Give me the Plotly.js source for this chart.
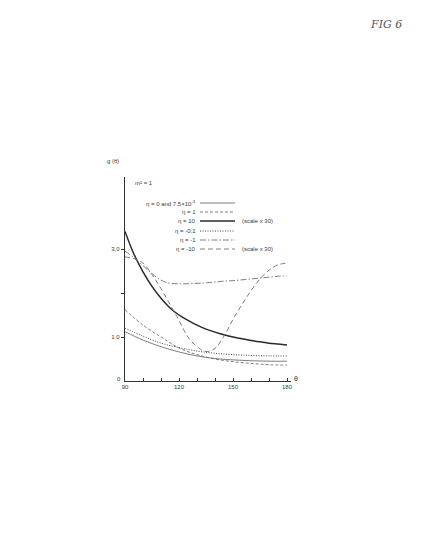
<!DOCTYPE html>
<html><head><meta charset="utf-8">
<script src="https://cdn.plot.ly/plotly-3.0.1.min.js"></script>
<style>html,body{margin:0;padding:0;background:#fff;}#g{width:421px;height:545px;}</style>
</head><body><div id="g"></div>
<script>
// angle grid (degrees)
const thetaA = [90,95,100,105,110,115,120,125,130,135,140,145,150,155,160,165,170,175,180];
const etaPos10 = [3.40,2.88,2.48,2.15,1.88,1.66,1.50,1.38,1.27,1.18,1.11,1.05,1.00,0.96,0.92,0.89,0.86,0.84,0.82];
const etaNeg1  = [2.95,2.80,2.62,2.44,2.29,2.22,2.21,2.21,2.22,2.23,2.25,2.27,2.28,2.30,2.32,2.34,2.36,2.38,2.39];
const etaNeg10 = [2.82,2.78,2.68,2.42,2.10,1.74,1.38,1.00,0.78,0.67,0.74,1.02,1.40,1.74,2.05,2.32,2.52,2.64,2.68];
const thetaB = [90,100,110,120,130,140,150,160,170,180];
const etaPos1  = [1.62,1.27,1.00,0.75,0.60,0.50,0.44,0.40,0.37,0.36];
const etaNeg01 = [1.20,1.02,0.86,0.76,0.68,0.63,0.60,0.58,0.57,0.57];
const eta0     = [1.12,0.93,0.78,0.66,0.57,0.51,0.48,0.46,0.45,0.45];
const xTicks = [90,100,110,120,130,140,150,160,170,180];
const xTickText = ['90','','','120','','','150','','','180'];
const yTicks = [1,2,3];
const yTickText = ['1.0','','3.0'];
const legendLabels = ['η = 0 and 7.5×10<sup>-3</sup>','η = 1','η = 10','η = -0.1','η = -1','η = -10'];

const gray='#707070';
const styles=[[0.9,'solid',gray],[0.9,'3px,2px',gray],[1.5,'solid','#2a2a2a'],[1.0,'1px,1.5px','#444'],[0.9,'6px,2px,1.5px,2px',gray],[0.9,'5px,3px',gray]];
const series=[[thetaB,eta0],[thetaB,etaPos1],[thetaA,etaPos10],[thetaB,etaNeg01],[thetaA,etaNeg1],[thetaA,etaNeg10]];
const data=series.map((s,i)=>({x:s[0],y:s[1],type:'scatter',mode:'lines',hoverinfo:'skip',
  line:{color:styles[i][2],width:styles[i][0],dash:styles[i][1],shape:'spline'}}));
const W=421,H=545;
const px=v=>v/W, py=v=>1-v/H;
const legY=[203,212,221,231,240,249];
const shapes=[], ann=[];
const tc='#3a3a3a';
legY.forEach((yy,i)=>{
  shapes.push({type:'line',xref:'paper',yref:'paper',x0:px(200),x1:px(235),y0:py(yy),y1:py(yy),line:{color:styles[i][2],width:styles[i][0],dash:styles[i][1]}});
  ann.push({xref:'paper',yref:'paper',x:px(198),y:py(yy),xanchor:'right',yanchor:'middle',text:legendLabels[i],showarrow:false,font:{size:6,color:tc}});
});
ann.push({xref:'paper',yref:'paper',x:px(240),y:py(221),xanchor:'left',yanchor:'middle',text:'(scale x 30)',showarrow:false,font:{size:6,color:tc}});
ann.push({xref:'paper',yref:'paper',x:px(240),y:py(249),xanchor:'left',yanchor:'middle',text:'(scale x 30)',showarrow:false,font:{size:6,color:tc}});
ann.push({xref:'paper',yref:'paper',x:px(133),y:py(183),xanchor:'left',yanchor:'middle',text:'m² = 1',showarrow:false,font:{size:6,color:tc}});
ann.push({xref:'paper',yref:'paper',x:px(121),y:py(161),xanchor:'right',yanchor:'middle',text:'g (θ)',showarrow:false,font:{size:6,color:tc}});
ann.push({xref:'paper',yref:'paper',x:px(123),y:py(379),xanchor:'right',yanchor:'middle',text:'0',showarrow:false,font:{size:6,color:tc}});
ann.push({xref:'paper',yref:'paper',x:px(292),y:py(378),xanchor:'left',yanchor:'middle',text:'θ',showarrow:false,font:{size:7,color:tc}});
ann.push({xref:'paper',yref:'paper',x:px(368),y:py(25),xanchor:'left',yanchor:'middle',text:'<i>FIG 6</i>',showarrow:false,font:{size:11,color:'#555',family:'DejaVu Serif'}});

const layout={width:W,height:H,margin:{l:0,r:0,t:0,b:0},paper_bgcolor:'#fff',plot_bgcolor:'#fff',showlegend:false,
  font:{family:'Liberation Sans, DejaVu Sans, sans-serif',size:6,color:tc},
  xaxis:{domain:[px(125),px(125+92*1.8)],range:[90,182],showgrid:false,zeroline:false,showline:true,linecolor:'#333',linewidth:1,
    tickmode:'array',tickvals:xTicks,ticktext:xTickText,ticks:'inside',ticklen:3,tickcolor:'#333',tickfont:{size:6,color:tc}},
  yaxis:{domain:[py(381),py(177)],range:[0,204/44],showgrid:false,zeroline:false,showline:true,linecolor:'#333',linewidth:1.2,
    tickmode:'array',tickvals:yTicks,ticktext:yTickText,ticks:'outside',ticklen:3,tickcolor:'#333',tickfont:{size:6,color:tc}},
  shapes:shapes,annotations:ann};
Plotly.newPlot('g',data,layout,{staticPlot:true,displayModeBar:false});
</script></body></html>
